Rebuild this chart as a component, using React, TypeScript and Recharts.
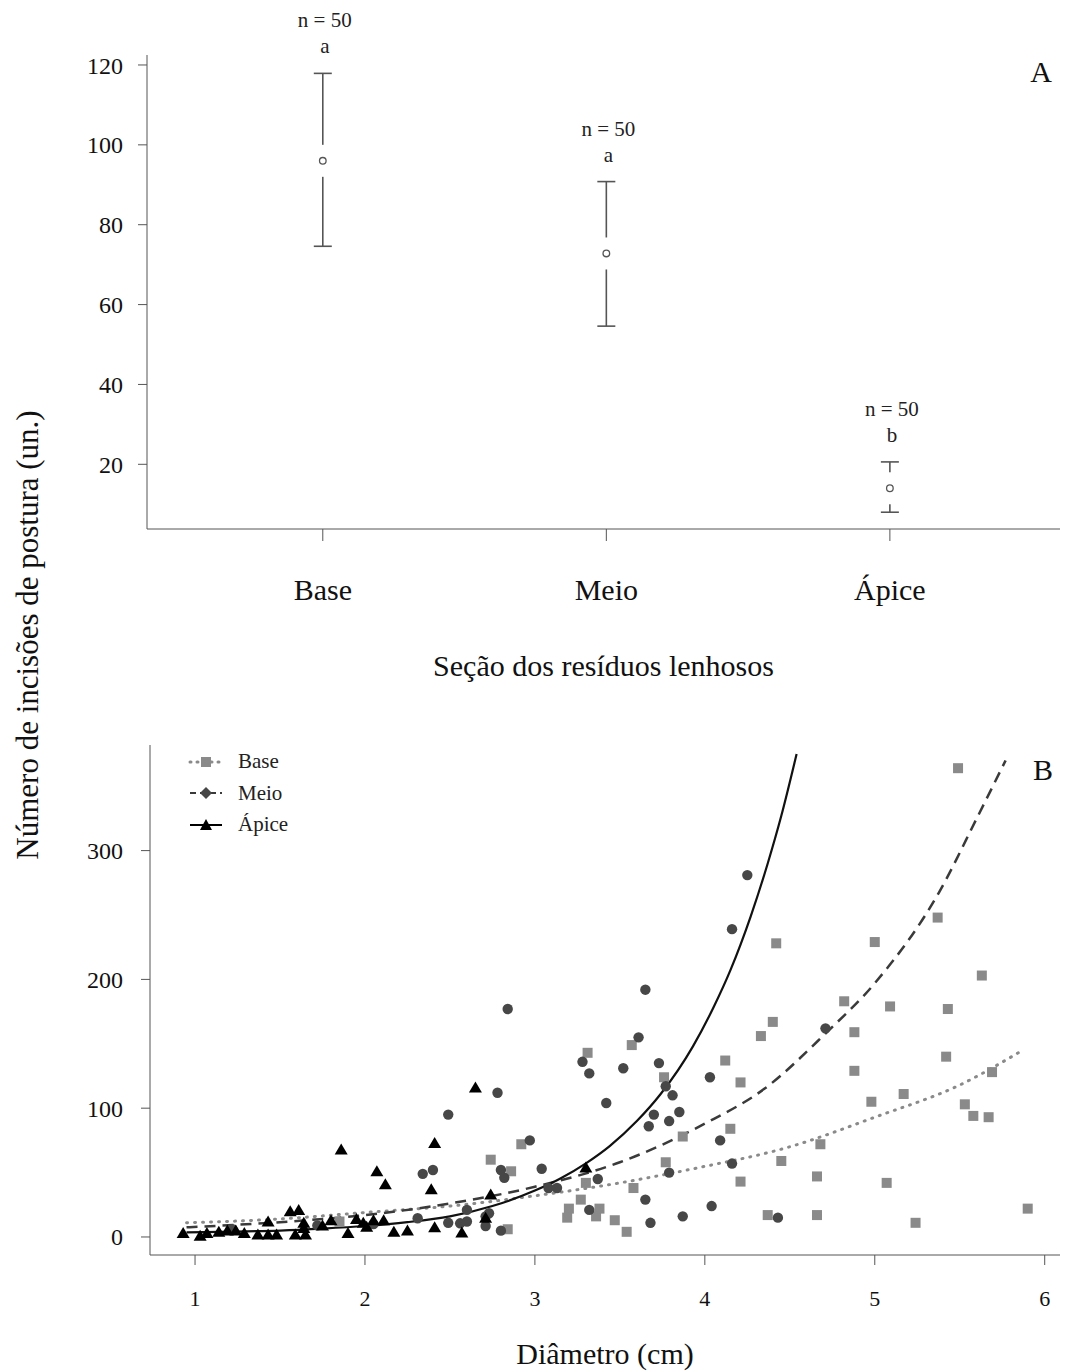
import React from "react";
import {
  ComposedChart,
  Scatter,
  Line,
  XAxis,
  YAxis,
  ErrorBar,
  Legend,
} from "recharts";

const FONT = "'Liberation Serif', 'Times New Roman', Times, serif";

// painel A - média e intervalo por seção
const secoes = ["Base", "Meio", "Ápice"];
const posicoes = [1, 2, 3];
const medias = [96, 72.8, 14];
const limitesInf = [74.6, 54.6, 8];
const limitesSup = [117.9, 90.8, 20.6];
const nAmostras = [50, 50, 50];
const letras = ["a", "a", "b"];
const ticksA = [20, 40, 60, 80, 100, 120];

// painel B - incisões x diâmetro
const baseX = [1.85, 2.74, 2.84, 2.86, 2.92, 3.19, 3.2, 3.27, 3.3, 3.31, 3.36, 3.38, 3.47, 3.54, 3.57, 3.58, 3.76, 3.77, 3.87, 4.12, 4.15, 4.21, 4.21, 4.33, 4.37, 4.4, 4.42, 4.45, 4.66, 4.66, 4.68, 4.82, 4.88, 4.88, 4.98, 5.0, 5.07, 5.09, 5.17, 5.24, 5.37, 5.42, 5.43, 5.49, 5.53, 5.58, 5.63, 5.67, 5.69, 5.9];
const baseY = [12, 60, 6, 51, 72, 15, 22, 29, 42, 143, 16, 22, 13, 4, 149, 38, 124, 58, 78, 137, 84, 120, 43, 156, 17, 167, 228, 59, 47, 17, 72, 183, 159, 129, 105, 229, 42, 179, 111, 11, 248, 140, 177, 364, 103, 94, 203, 93, 128, 22];

const meioX = [1.22, 1.72, 2.05, 2.31, 2.34, 2.4, 2.49, 2.49, 2.56, 2.6, 2.6, 2.71, 2.71, 2.73, 2.78, 2.8, 2.8, 2.82, 2.84, 2.97, 3.04, 3.08, 3.13, 3.28, 3.32, 3.32, 3.37, 3.42, 3.52, 3.61, 3.65, 3.65, 3.67, 3.68, 3.7, 3.73, 3.77, 3.79, 3.79, 3.81, 3.85, 3.87, 4.03, 4.04, 4.09, 4.16, 4.16, 4.25, 4.43, 4.71];
const meioY = [6, 9, 10, 14.5, 49, 52, 95, 11, 10.6, 12, 21, 16, 8.5, 18.4, 112, 52, 4.9, 46, 177, 75, 53, 38, 38, 136, 127, 21, 45, 104, 131, 155, 192, 29, 86, 11, 95, 135, 117, 90, 50, 110, 97, 16, 124, 24, 75, 57, 239, 281, 15, 162];

const apiceX = [0.93, 1.03, 1.07, 1.14, 1.19, 1.24, 1.29, 1.37, 1.43, 1.43, 1.48, 1.56, 1.59, 1.61, 1.64, 1.64, 1.65, 1.75, 1.8, 1.86, 1.9, 1.95, 1.99, 2.01, 2.05, 2.07, 2.11, 2.12, 2.17, 2.25, 2.39, 2.41, 2.41, 2.57, 2.65, 2.71, 2.74, 3.3];
const apiceY = [3, 1, 3, 4, 5, 5, 3, 2, 2, 12, 2, 20, 2, 21, 11, 7, 2, 9, 13, 68, 3, 14, 11, 8, 13, 51, 13, 41, 4, 5, 37, 73, 7.5, 3.4, 116, 15, 33, 54];

// curvas ajustadas (valores lidos ao longo de cada curva)
const curvaBaseX = [0.95, 1.5, 2, 2.5, 3, 3.5, 3.97, 4.5, 5, 5.5, 5.87];
const curvaBaseY = [11, 14, 19, 24, 32, 42, 54, 70, 93, 118, 145];
const curvaMeioX = [0.95, 1.5, 2, 2.5, 3, 3.5, 4, 4.35, 4.71, 5, 5.38, 5.6, 5.77];
const curvaMeioY = [7.5, 11.5, 17, 26, 39, 58, 88, 115, 158, 197, 268, 325, 370];
const curvaApiceX = [0.95, 1.25, 1.5, 1.75, 2, 2.25, 2.5, 2.75, 3, 3.15, 3.3, 3.44, 3.6, 3.74, 3.93, 4.05, 4.15, 4.27, 4.37, 4.45, 4.54];
const curvaApiceY = [3.5, 4.2, 5, 6.5, 8.5, 11.5, 16, 24, 36, 45.4, 57.2, 70.6, 90, 111, 148, 178, 207, 249, 290, 327, 375];

const ticksBX = [1, 2, 3, 4, 5, 6];
const ticksBY = [0, 100, 200, 300];
const grupos = ["Base", "Meio", "Ápice"];

const pares = (xs: number[], ys: number[]) => xs.map((x, i) => ({ x, y: ys[i] }));

const dadosA = secoes.map((s, i) => ({
  x: posicoes[i],
  media: medias[i],
  sup: limitesSup[i],
  err: [medias[i] - limitesInf[i], limitesSup[i] - medias[i]],
  n: nAmostras[i],
  letra: letras[i],
}));

const pontosBase = pares(baseX, baseY);
const pontosMeio = pares(meioX, meioY);
const pontosApice = pares(apiceX, apiceY);
const curvaBase = pares(curvaBaseX, curvaBaseY);
const curvaMeio = pares(curvaMeioX, curvaMeioY);
const curvaApice = pares(curvaApiceX, curvaApiceY);

const Vazio = () => <g />;

const MediaMarca = (p: any) => (
  <g>
    <rect x={p.cx - 4} y={p.cy - 16} width={8} height={32} fill="#fff" />
    <circle cx={p.cx} cy={p.cy} r={3.3} fill="#fff" stroke="#555" strokeWidth={1.3} />
  </g>
);

const Rotulo = (p: any) => (
  <g fontFamily={FONT} fontSize={21} fill="#222" textAnchor="middle">
    <text x={p.cx + 2} y={p.cy - 46}>{`n = ${p.payload.n}`}</text>
    <text x={p.cx + 2} y={p.cy - 20}>{p.payload.letra}</text>
  </g>
);

const Quadrado = (p: any) => (
  <rect x={p.cx - 5} y={p.cy - 5} width={10} height={10} fill="#8a8a8a" />
);
const Circulo = (p: any) => <circle cx={p.cx} cy={p.cy} r={5.2} fill="#474747" />;
const Triangulo = (p: any) => (
  <polygon
    points={`${p.cx},${p.cy - 6} ${p.cx + 6.5},${p.cy + 5} ${p.cx - 6.5},${p.cy + 5}`}
    fill="#000"
  />
);

const estilos = [
  { stroke: "#8a8a8a", dash: "1 6", width: 3, marca: <rect x={15} y={5} width={10} height={10} fill="#8a8a8a" /> },
  { stroke: "#3a3a3a", dash: "6 4", width: 2, marca: <polygon points="20,4 26,10 20,16 14,10" fill="#474747" /> },
  { stroke: "#000", dash: undefined, width: 2, marca: <polygon points="20,4 26,15 14,15" fill="#000" /> },
];

const LegendaB = () => (
  <div style={{ fontFamily: FONT, fontSize: 21, color: "#222" }}>
    {grupos.map((g, i) => (
      <div key={g} style={{ display: "flex", alignItems: "center", height: 31.5 }}>
        <svg width={40} height={20}>
          <line
            x1={4}
            x2={36}
            y1={10}
            y2={10}
            stroke={estilos[i].stroke}
            strokeWidth={estilos[i].width}
            strokeDasharray={estilos[i].dash}
            strokeLinecap={i === 0 ? "round" : "butt"}
          />
          {estilos[i].marca}
        </svg>
        <span style={{ marginLeft: 12 }}>{g}</span>
      </div>
    ))}
  </div>
);

const tickTexto = { fontSize: 24, fill: "#111", fontFamily: FONT };

export default function App() {
  return (
    <div
      style={{
        position: "absolute",
        left: 0,
        top: 0,
        width: 1069,
        height: 1372,
        background: "#fff",
        fontFamily: FONT,
      }}
    >
      <div style={{ position: "absolute", left: 0, top: 0 }}>
        <ComposedChart width={1069} height={690} margin={{ top: 55, right: 9, bottom: 14, left: 0 }}>
          <XAxis
            type="number"
            dataKey="x"
            domain={[0.38, 3.6]}
            ticks={posicoes}
            tickFormatter={(v: number) => secoes[posicoes.indexOf(v)]}
            height={147}
            tickSize={12}
            tickMargin={38}
            stroke="#555"
            tick={{ ...tickTexto, fontSize: 30 }}
            label={{
              value: "Seção dos resíduos lenhosos",
              position: "insideBottom",
              offset: 0,
              fontSize: 30,
              fill: "#111",
              fontFamily: FONT,
            }}
          />
          <YAxis
            type="number"
            domain={[3.8, 122.5]}
            ticks={ticksA}
            width={147}
            tickSize={9}
            tickMargin={15}
            stroke="#555"
            tick={tickTexto}
          />
          <Scatter data={dadosA} dataKey="media" shape={Vazio} isAnimationActive={false}>
            <ErrorBar dataKey="err" direction="y" width={9} stroke="#555" strokeWidth={1.6} isAnimationActive={false} />
          </Scatter>
          <Scatter data={dadosA} dataKey="media" shape={MediaMarca} isAnimationActive={false} />
          <Scatter data={dadosA} dataKey="sup" shape={Rotulo} isAnimationActive={false} />
        </ComposedChart>
      </div>

      <div style={{ position: "absolute", left: 0, top: 700 }}>
        <ComposedChart width={1069} height={672} margin={{ top: 45, right: 9, bottom: 8, left: 0 }}>
          <XAxis
            type="number"
            dataKey="x"
            domain={[0.735, 6.09]}
            allowDataOverflow
            ticks={ticksBX}
            height={109}
            tickSize={10}
            tickMargin={25}
            stroke="#555"
            tick={{ ...tickTexto, fontSize: 22 }}
            label={{
              value: "Diâmetro (cm)",
              position: "insideBottom",
              offset: 0,
              fontSize: 30,
              fill: "#111",
              fontFamily: FONT,
            }}
          />
          <YAxis
            type="number"
            domain={[-14, 382]}
            allowDataOverflow
            ticks={ticksBY}
            width={150}
            tickSize={9}
            tickMargin={18}
            stroke="#555"
            tick={tickTexto}
          />
          <Legend
            layout="vertical"
            align="center"
            verticalAlign="middle"
            content={() => <LegendaB />}
            wrapperStyle={{ left: 186, top: 46, width: "auto", height: "auto" }}
          />
          <Scatter name="Base" data={pontosBase} dataKey="y" shape={Quadrado} isAnimationActive={false} />
          <Scatter name="Meio" data={pontosMeio} dataKey="y" shape={Circulo} isAnimationActive={false} />
          <Scatter name="Ápice" data={pontosApice} dataKey="y" shape={Triangulo} isAnimationActive={false} />
          <Line
            data={curvaBase}
            dataKey="y"
            type="monotone"
            stroke="#8a8a8a"
            strokeWidth={3}
            strokeDasharray="1 7"
            strokeLinecap="round"
            dot={false}
            legendType="none"
            isAnimationActive={false}
          />
          <Line
            data={curvaMeio}
            dataKey="y"
            type="monotone"
            stroke="#3a3a3a"
            strokeWidth={2.5}
            strokeDasharray="11 7"
            dot={false}
            legendType="none"
            isAnimationActive={false}
          />
          <Line
            data={curvaApice}
            dataKey="y"
            type="monotone"
            stroke="#111"
            strokeWidth={2.2}
            dot={false}
            legendType="none"
            isAnimationActive={false}
          />
        </ComposedChart>
      </div>

      <div
        style={{
          position: "absolute",
          left: 28 - 300,
          top: 635 - 17,
          width: 600,
          height: 34,
          lineHeight: "34px",
          textAlign: "center",
          fontSize: 31,
          color: "#111",
          transform: "rotate(-90deg)",
        }}
      >
        Número de incisões de postura (un.)
      </div>
      <div style={{ position: "absolute", left: 1021, top: 57, width: 40, lineHeight: "30px", textAlign: "center", fontSize: 30, color: "#111" }}>
        A
      </div>
      <div style={{ position: "absolute", left: 1023, top: 755, width: 40, lineHeight: "30px", textAlign: "center", fontSize: 30, color: "#111" }}>
        B
      </div>
    </div>
  );
}
